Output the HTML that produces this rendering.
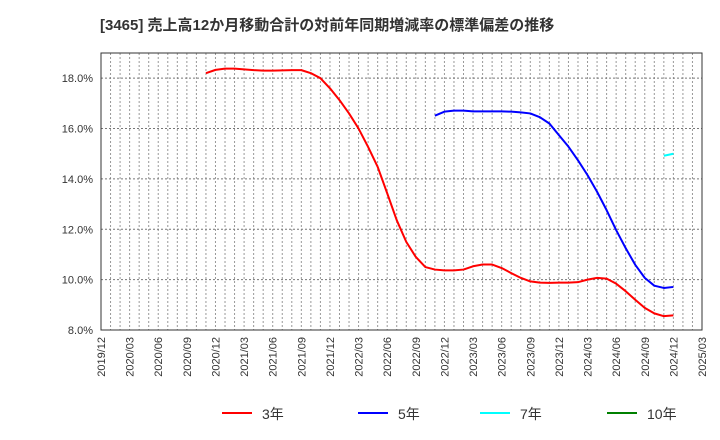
<!DOCTYPE html>
<html><head><meta charset="utf-8"><style>
body{margin:0;background:#fff;width:720px;height:440px;overflow:hidden}
svg{display:block;font-family:"Liberation Sans","Noto Sans CJK JP",sans-serif}
</style></head><body>
<svg id="chart" width="720" height="440">
<text x="100" y="30" font-size="15" font-weight="bold" fill="#333">[3465]  売上高12か月移動合計の対前年同期増減率の標準偏差の推移</text>
<g id="grid"></g><g id="axes"></g><g id="series"></g><g id="legend"></g>
</svg>
<script>
const xTickLabels=["2019/12","2020/03","2020/06","2020/09","2020/12","2021/03","2021/06","2021/09","2021/12","2022/03","2022/06","2022/09","2022/12","2023/03","2023/06","2023/09","2023/12","2024/03","2024/06","2024/09","2024/12","2025/03"];
const yTicks=[8,10,12,14,16,18];
const s3start=11;
const s3=[18.2,18.33,18.38,18.38,18.35,18.32,18.3,18.3,18.31,18.32,18.32,18.2,18.0,17.6,17.13,16.6,16.0,15.27,14.48,13.43,12.36,11.5,10.9,10.5,10.4,10.37,10.37,10.4,10.53,10.6,10.6,10.46,10.26,10.07,9.93,9.88,9.87,9.88,9.88,9.9,10.0,10.07,10.04,9.84,9.54,9.2,8.88,8.66,8.55,8.58];
const s5start=35;
const s5=[16.51,16.67,16.71,16.71,16.68,16.68,16.68,16.68,16.67,16.64,16.6,16.45,16.2,15.74,15.28,14.74,14.15,13.49,12.76,11.97,11.25,10.59,10.07,9.76,9.67,9.71];
const s7start=59;
const s7=[14.92,15.0];
const s10start=0;
const s10=[];
const seriesNames=["3年","5年","7年","10年"];
const colors=["#ff0000","#0000ff","#00ffff","#008000"];
const NS="http://www.w3.org/2000/svg";
const L=101,R=702,T=53,B=330,months=63,yMin=8,yMax=19;
const xs=m=>L+(R-L)*m/months;
const ys=v=>B-(B-T)*(v-yMin)/(yMax-yMin);
function mk(tag,attrs,parent){const e=document.createElementNS(NS,tag);for(const k in attrs)e.setAttribute(k,attrs[k]);parent.appendChild(e);return e;}
const grid=document.getElementById('grid'),axes=document.getElementById('axes'),ser=document.getElementById('series'),leg=document.getElementById('legend');
for(let m=1;m<months;m++){const l=mk('line',{x1:xs(m),x2:xs(m),y1:T,y2:B,stroke:'#999','stroke-dasharray':'2,2','stroke-width':1},grid);

}
yTicks.forEach(v=>{const l=mk('line',{x1:L,x2:R,y1:ys(v),y2:ys(v),stroke:'#777','stroke-dasharray':'2,2','stroke-width':1},grid);


const t=mk('text',{x:93,y:ys(v)+4,'text-anchor':'end','font-size':11,fill:'#333'},axes);


t.textContent=v.toFixed(1)+'%';});
xTickLabels.forEach((lab,i)=>{const x=xs(i*3);const t=mk('text',{x:0,y:0,'text-anchor':'end','font-size':11,fill:'#333',transform:`translate(${x+4},337) rotate(-90)`},axes);


t.textContent=lab;});
const fr=mk('rect',{x:L,y:T,width:R-L,height:B-T,fill:'none',stroke:'#333','stroke-width':1},axes);


[[s3,s3start],[s5,s5start],[s7,s7start],[s10,s10start]].forEach(([d,st],k)=>{if(!d.length)return;
const p=mk('polyline',{points:d.map((v,i)=>xs(st+i)+','+ys(v)).join(' '),fill:'none',stroke:colors[k],'stroke-width':2,'stroke-linejoin':'round'},ser);

});
const lx=[222,358,480,607];
seriesNames.forEach((n,k)=>{const g=mk('g',{},leg);


mk('line',{x1:lx[k],x2:lx[k]+30,y1:413,y2:413,stroke:colors[k],'stroke-width':2},g);
const t=mk('text',{x:lx[k]+40,y:419,'font-size':14,fill:'#333'},g);t.textContent=n;});
</script>
</body></html>
